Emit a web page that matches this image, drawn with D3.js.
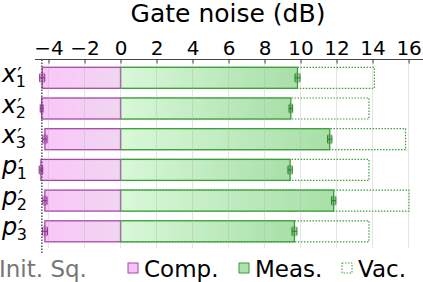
<!DOCTYPE html>
<html>
<head>
<meta charset="utf-8">
<script src="https://cdn.jsdelivr.net/npm/d3@7"></script>
<style>
  body { margin: 0; background: #fff; }
  svg { display: block; font-family: "DejaVu Sans", sans-serif; }
</style>
</head>
<body>
<div id="chart"></div>
<script>
// quadratures, each x'_n / p'_n
const rowVar = ["x", "x", "x", "p", "p", "p"];
const rowSub = ["1", "2", "3", "1", "2", "3"];

// gate noise in dB
const comp = [-4.35, -4.38, -4.2, -4.42, -4.2, -4.2];
const compErr = [0.14, 0.08, 0.12, 0.1, 0.12, 0.14];
const meas = [9.83, 9.46, 11.62, 9.42, 11.84, 9.66];
const measErr = [0.14, 0.1, 0.12, 0.12, 0.12, 0.14];
const vac = [14.1, 13.8, 15.83, 13.8, 16.02, 13.8];
const initSq = -4.37;

const tickValues = [-4, -2, 0, 2, 4, 6, 8, 10, 12, 14, 16];

const width = 423,
  height = 282;

const rows = rowVar.map((v, i) => ({
  id: i,
  v: v,
  sub: rowSub[i],
  comp: comp[i],
  compErr: compErr[i],
  meas: meas[i],
  measErr: measErr[i],
  vac: vac[i],
}));

const svg = d3
  .select("#chart")
  .append("svg")
  .attr("width", width)
  .attr("height", height);

const x = d3.scaleLinear().domain([-4.75, 16.8]).range([35, 423]);

const y = d3
  .scaleBand()
  .domain(rows.map((d) => d.id))
  .range([62.45, 246.65])
  .paddingInner(0.316)
  .paddingOuter(0.158);

const axisY = 59.5,
  plotBottom = 248;

// gradients
const defs = svg.append("defs");
const grad = (id, c0, c1) => {
  const g = defs
    .append("linearGradient")
    .attr("id", id)
    .attr("x1", "0%")
    .attr("x2", "100%");
  g.append("stop").attr("offset", "0%").attr("stop-color", c0);
  g.append("stop").attr("offset", "100%").attr("stop-color", c1);
};
grad("pinkGrad", "#fac6fa", "#f0d6f0");
grad("greenGrad", "#d9f8d9", "#a8dfa8");

const pinkStroke = "#a449a4",
  greenStroke = "#3a9e3a";

// vacuum (dotted outline)
svg
  .selectAll(".vac")
  .data(rows)
  .join("rect")
  .attr("class", "vac")
  .attr("x", x(0))
  .attr("y", (d) => y(d.id))
  .attr("width", (d) => x(d.vac) - x(0))
  .attr("height", y.bandwidth())
  .attr("fill", "none")
  .attr("stroke", greenStroke)
  .attr("stroke-width", 1.2)
  .attr("stroke-dasharray", "1.5,1.5");

// measured
svg
  .selectAll(".meas")
  .data(rows)
  .join("rect")
  .attr("class", "meas")
  .attr("x", x(0))
  .attr("y", (d) => y(d.id))
  .attr("width", (d) => x(d.meas) - x(0))
  .attr("height", y.bandwidth())
  .attr("fill", "url(#greenGrad)")
  .attr("stroke", greenStroke)
  .attr("stroke-width", 1.3);

// compensated
svg
  .selectAll(".comp")
  .data(rows)
  .join("rect")
  .attr("class", "comp")
  .attr("x", (d) => x(d.comp))
  .attr("y", (d) => y(d.id))
  .attr("width", (d) => x(0) - x(d.comp))
  .attr("height", y.bandwidth())
  .attr("fill", "url(#pinkGrad)")
  .attr("stroke", pinkStroke)
  .attr("stroke-width", 1.3);

// grid lines on top, faint
svg
  .selectAll(".grid")
  .data(tickValues)
  .join("line")
  .attr("class", "grid")
  .attr("x1", (d) => x(d))
  .attr("x2", (d) => x(d))
  .attr("y1", axisY)
  .attr("y2", plotBottom)
  .attr("stroke", "#b0b0b0")
  .attr("stroke-opacity", 0.35)
  .attr("stroke-width", 1);

// error bars
const errBars = (key, errKey, color) => {
  const g = svg.append("g");
  rows.forEach((d) => {
    const cy = y(d.id) + y.bandwidth() / 2,
      x0 = x(d[key] - d[errKey]),
      x1 = x(d[key] + d[errKey]);
    g.append("rect")
      .attr("x", x0)
      .attr("y", cy - 5)
      .attr("width", x1 - x0)
      .attr("height", 10)
      .attr("fill", color)
      .attr("opacity", 0.35);
    g.append("line")
      .attr("x1", x0)
      .attr("x2", x1)
      .attr("y1", cy)
      .attr("y2", cy)
      .attr("stroke", color)
      .attr("stroke-width", 1);
    [x0, x1].forEach((xx) =>
      g
        .append("line")
        .attr("x1", xx)
        .attr("x2", xx)
        .attr("y1", cy - 4)
        .attr("y2", cy + 4)
        .attr("stroke", color)
        .attr("stroke-width", 1)
    );
  });
};
errBars("comp", "compErr", "#8a2f8a");
errBars("meas", "measErr", "#2a7f2a");

// initial squeezing line
svg
  .append("line")
  .attr("x1", x(initSq))
  .attr("x2", x(initSq))
  .attr("y1", axisY)
  .attr("y2", 253)
  .attr("stroke", "#555")
  .attr("stroke-width", 1.5)
  .attr("stroke-dasharray", "1.5,1.5");

// top axis
const axis = d3
  .axisTop(x)
  .tickValues(tickValues)
  .tickSize(-4)
  .tickPadding(5)
  .tickFormat((d) => (d < 0 ? "\u2212" + Math.abs(d) : d));

const ax = svg
  .append("g")
  .attr("transform", "translate(0," + axisY + ")")
  .call(axis);
ax.select(".domain").attr("stroke", "#444").attr("d", "M35,0H423");
ax.selectAll(".tick line").attr("stroke", "#444");
ax.selectAll(".tick text")
  .attr("font-family", "DejaVu Sans")
  .attr("font-size", 20)
  .attr("fill", "#000");

svg
  .append("text")
  .attr("x", 228)
  .attr("y", 22)
  .attr("text-anchor", "middle")
  .attr("font-size", 25)
  .text("Gate noise (dB)");

// row labels x'_n, p'_n  (one text each, tspans for prime and subscript)
const lab = svg
  .selectAll(".rowlab")
  .data(rows)
  .join("text")
  .attr("class", "rowlab")
  .attr("x", 2)
  .attr("y", (d) => y(d.id) + y.bandwidth() / 2 + 4);
lab
  .append("tspan")
  .attr("font-size", 24)
  .attr("font-style", "italic")
  .text((d) => d.v);
lab
  .append("tspan")
  .attr("font-size", 20)
  .attr("dx", 1)
  .attr("dy", -1)
  .text("\u2032");
lab
  .append("tspan")
  .attr("font-size", 16)
  .attr("dx", -6)
  .attr("dy", 6)
  .text((d) => d.sub);

// legend
const legY = 277;
svg
  .append("text")
  .attr("x", -1)
  .attr("y", legY)
  .attr("font-size", 23)
  .attr("fill", "#777")
  .text("Init. Sq.");

const legend = [
  { label: "Comp.", x: 128, fill: "#f7c2f7", stroke: pinkStroke, dash: null },
  { label: "Meas.", x: 239, fill: "#ace0ac", stroke: greenStroke, dash: null },
  { label: "Vac.", x: 342, fill: "none", stroke: greenStroke, dash: "1.5,1.5" },
];
const lg = svg
  .selectAll(".leg")
  .data(legend)
  .join("g")
  .attr("class", "leg");
lg.append("rect")
  .attr("x", (d) => d.x)
  .attr("y", 263)
  .attr("width", 10)
  .attr("height", 10)
  .attr("fill", (d) => d.fill)
  .attr("stroke", (d) => d.stroke)
  .attr("stroke-width", 1)
  .attr("stroke-dasharray", (d) => d.dash);
lg.append("text")
  .attr("x", (d) => d.x + 16)
  .attr("y", legY)
  .attr("font-size", 23)
  .text((d) => d.label);
</script>
</body>
</html>
